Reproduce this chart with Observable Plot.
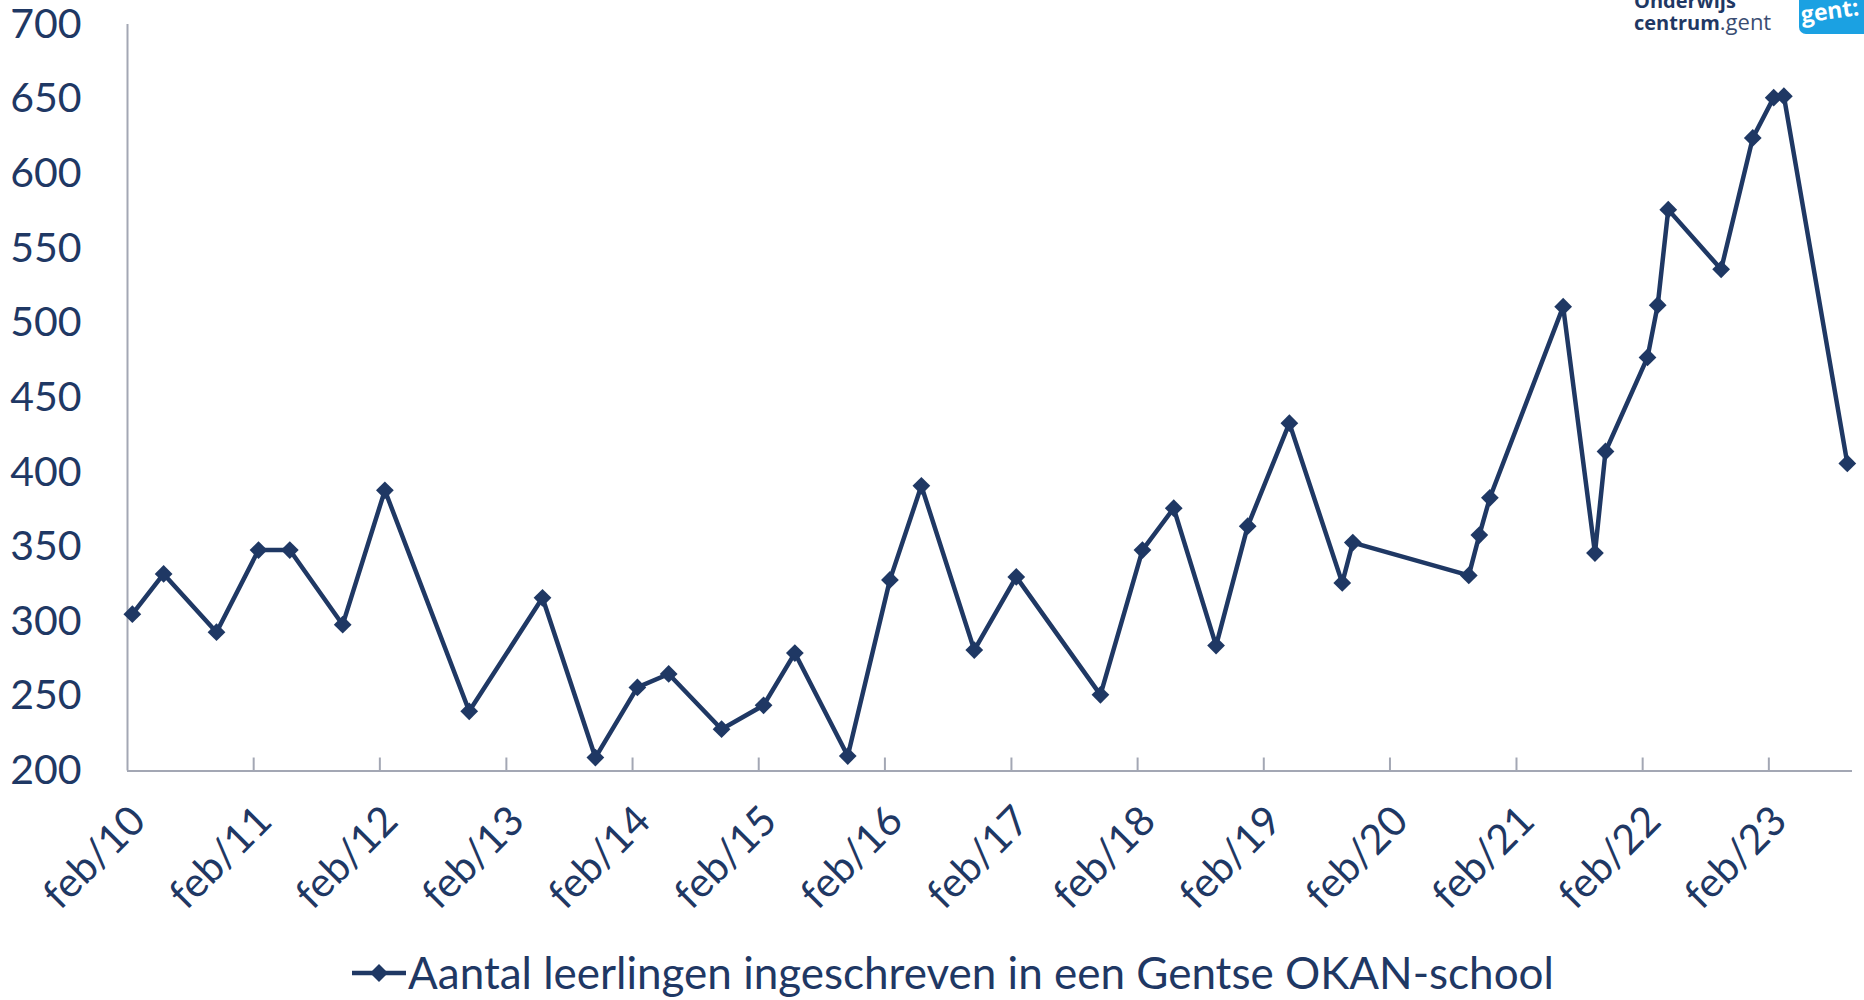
<!DOCTYPE html>
<html>
<head>
<meta charset="utf-8">
<script src="https://cdn.jsdelivr.net/npm/d3@7"></script>
<script src="https://cdn.jsdelivr.net/npm/@observablehq/plot@0.6"></script>
<style>
  body { margin: 0; background: #fff; }
  #wrap { position: relative; width: 1864px; height: 1000px; overflow: hidden; background: #fff; font-family: Lato, sans-serif; }
  #chart { position: absolute; left: 0; top: 0; }
  #legend { position: absolute; left: 0; top: 946px; width: 1864px; height: 54px; }
  #legend .key { position: absolute; left: 350px; top: 1px; }
  #legend .label { position: absolute; left: 408px; top: 0; font-size: 44px; line-height: 52px; color: #1f3864; white-space: nowrap; }
  #logo { position: absolute; left: 1634px; top: -9px; color: #1f3864; white-space: nowrap; }
  #logo .l1, #logo .l2 { font-family: "Open Sans", sans-serif; font-weight: 700; font-size: 20px; line-height: 20px; height: 20px; }
  #logo .l2 .light { font-weight: 400; color: #3a4d72; font-size: 22px; }
  #gent { position: absolute; left: 1799px; top: -12px; width: 90px; height: 46px; background: #1ba1e2; border-radius: 7px; }
  #gent span { position: absolute; left: 4px; top: 10px; color: #fff; font-family: "Open Sans", sans-serif; font-weight: 700; font-size: 23px; transform: rotate(-8deg); transform-origin: left bottom; }
</style>
</head>
<body>
<div id="wrap">
  <div id="chart"></div>
  <div id="logo"><div class="l1">Onderwijs</div><div class="l2">centrum<span class="light">.gent</span></div></div>
  <div id="gent"><span>gent:</span></div>
  <div id="legend">
    <svg class="key" width="58" height="52"><line x1="2" y1="26" x2="56" y2="26" stroke="#1f3864" stroke-width="4.5"/><path d="M29,17 L38,26 L29,35 L20,26 Z" fill="#1f3864"/></svg>
    <div class="label" id="legendText"></div>
  </div>
</div>
<script>
// ---- data ----
const months = [
  "2010-02","2010-05","2010-10","2011-02","2011-05","2011-10","2012-02","2012-10",
  "2013-05","2013-10","2014-02","2014-05","2014-10","2015-02","2015-05","2015-10",
  "2016-02","2016-05","2016-10","2017-02","2017-10","2018-02","2018-05","2018-09",
  "2018-12","2019-04","2019-09","2019-10","2020-09","2020-10","2020-11","2021-06",
  "2021-09","2021-10","2022-02","2022-03","2022-04","2022-09","2022-12","2023-02",
  "2023-03","2023-09"
];
const values = [
  305, 332, 293, 348, 348, 298, 388, 240,
  316, 209, 256, 265, 228, 244, 279, 210,
  328, 391, 281, 330, 251, 348, 376, 284,
  364, 433, 326, 353, 331, 358, 383, 511,
  346, 414, 477, 512, 576, 536, 624, 651,
  652, 406
];
const tickYears = [2010,2011,2012,2013,2014,2015,2016,2017,2018,2019,2020,2021,2022,2023];
const tickLabels = ["feb/10","feb/11","feb/12","feb/13","feb/14","feb/15","feb/16","feb/17","feb/18","feb/19","feb/20","feb/21","feb/22","feb/23"];
const yTicks = [200,250,300,350,400,450,500,550,600,650,700];
const seriesName = "Aantal leerlingen ingeschreven in een Gentse OKAN-school";
const xStart = "2010-02";
const xEnd = "2023-10";

// ---- build ----
const navy = "#1f3864";
const gray = "#a3a7b4";
const monthStart = s => { const [y, m] = s.split("-").map(Number); return new Date(Date.UTC(y, m - 1, 1)); };
const midMonth = s => { const a = monthStart(s); const b = new Date(Date.UTC(a.getUTCFullYear(), a.getUTCMonth() + 1, 1)); return new Date((+a + +b) / 2); };
const data = months.map((m, i) => ({date: midMonth(m), value: values[i]}));
const ticks = tickYears.map((y, i) => ({date: new Date(Date.UTC(y, 1, 1)), label: tickLabels[i]}));

const H = 930;
const chart = Plot.plot({
  width: 1864,
  height: H,
  marginLeft: 127,
  marginRight: 12,
  marginTop: 24,
  marginBottom: H - 770.5,
  style: {fontFamily: "Lato, sans-serif", background: "transparent", overflow: "visible"},
  x: {type: "utc", domain: [monthStart(xStart), monthStart(xEnd)], axis: null},
  y: {domain: [200, 700], axis: null},
  marks: [
    Plot.ruleY([200], {stroke: gray, strokeWidth: 2}),
    Plot.ruleX([monthStart(xStart)], {y1: 200, y2: 700, stroke: gray, strokeWidth: 2}),
    Plot.ruleX(ticks.slice(1), {x: "date", y1: 200, y2: 208.7, stroke: gray, strokeWidth: 2}),
    Plot.axisY(yTicks, {label: null, tickSize: 0, tickPadding: 46, fontSize: 41, fill: navy, fontFamily: "Lato, sans-serif"}),
    Plot.text(ticks, {x: "date", y: 200, text: "label", rotate: -45, textAnchor: "end", lineAnchor: "middle", dx: 11, dy: 43, fontSize: 41, fill: navy, fontFamily: "Lato, sans-serif"}),
    Plot.line(data, {x: "date", y: "value", stroke: navy, strokeWidth: 4.5, strokeLinejoin: "round"}),
    Plot.dot(data, {x: "date", y: "value", symbol: "diamond2", r: 8, fill: navy, stroke: "none"})
  ]
});
document.getElementById("chart").appendChild(chart);
document.getElementById("legendText").textContent = seriesName;
</script>
</body>
</html>
